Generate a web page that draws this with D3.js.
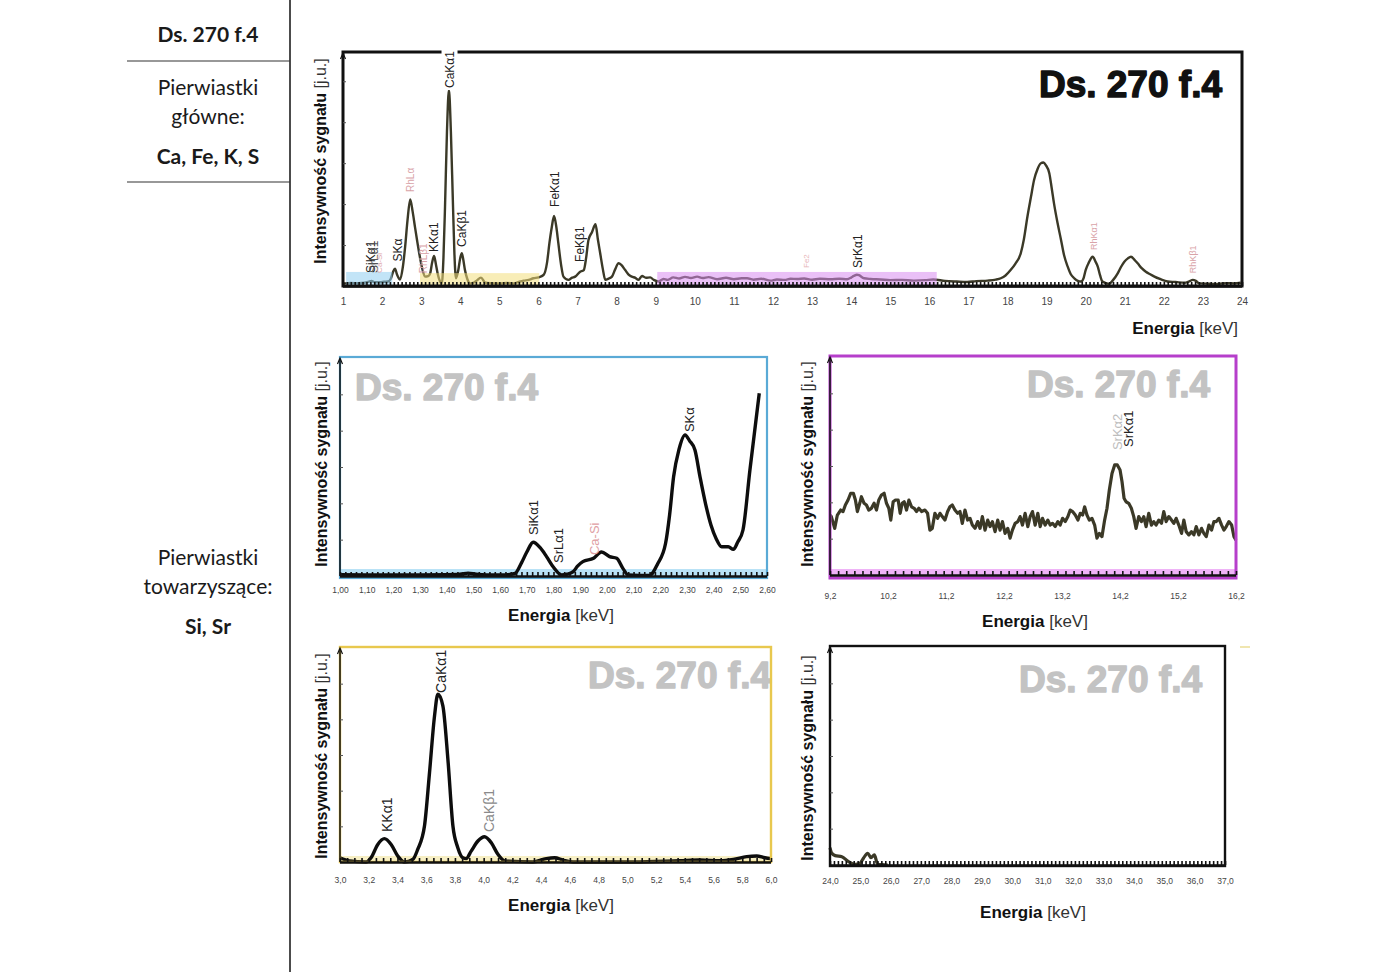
<!DOCTYPE html>
<html><head><meta charset="utf-8">
<script src="https://cdn.jsdelivr.net/npm/d3@7"></script>
<style>body{margin:0;background:#fff}svg{display:block}text{font-family:"Liberation Sans",Arial,sans-serif}</style>
</head><body>
<svg id="c" width="1400" height="972"></svg>
<script>
// ---------------- DATA ----------------
const sampleName = "Ds. 270 f.4";
const mainElements = "Ca, Fe, K, S";
const traceElements = "Si, Sr";

// [keV, intensity (a.u., 0-100)]
const mainSpectrum = [[1.00,1.0],[1.05,1.1],[1.2,1.3],[1.4,1.2],[1.55,1.4],[1.65,1.8],[1.73,2.2],[1.8,1.6],[1.95,1.6],[2.05,1.8],[2.15,1.9],[2.22,3.0],[2.28,6.0],[2.33,7.4],[2.38,5.0],[2.46,2.8],[2.53,8],[2.59,16.8],[2.65,28],[2.72,37.0],[2.78,32],[2.84,25.4],[2.90,19],[2.95,14.0],[3.02,8],[3.10,4.0],[3.18,4.2],[3.23,5.4],[3.28,10],[3.33,12.8],[3.38,9],[3.43,4.7],[3.50,1.5],[3.53,1.2],[3.57,12],[3.61,33.9],[3.66,66],[3.71,83.8],[3.76,66],[3.81,36.8],[3.85,14],[3.89,3.3],[3.95,6.8],[4.00,12],[4.04,14.0],[4.08,11],[4.12,6.8],[4.18,3],[4.25,1.1],[4.35,1.5],[4.42,2.3],[4.53,3.6],[4.64,1.4],[4.8,1.2],[5.0,1.1],[5.2,1.3],[5.36,1.1],[5.5,1.8],[5.62,2.3],[5.75,2.6],[5.87,3.3],[6.00,3.7],[6.13,4.7],[6.22,10],[6.28,18.2],[6.34,25],[6.40,29.9],[6.46,25],[6.51,18.2],[6.58,9],[6.64,4.0],[6.77,2.6],[6.85,3.5],[6.94,4.0],[7.06,6],[7.16,6.8],[7.22,12],[7.28,19.7],[7.37,23],[7.46,26.4],[7.52,20],[7.58,14.0],[7.65,7],[7.71,2.6],[7.80,3.2],[7.88,4.0],[7.96,7],[8.05,9.7],[8.12,9],[8.22,6.8],[8.30,5],[8.39,4.0],[8.48,3.5],[8.56,2.6],[8.65,4.3],[8.75,3.5],[8.86,3.7],[8.95,2.6],[9.07,1.9],[9.2,3.0],[9.3,2.6],[9.45,3.7],[9.6,3.2],[9.75,3.9],[9.9,3.4],[10.06,4.0],[10.2,3.4],[10.35,3.8],[10.57,2.9],[10.8,3.5],[11.0,2.9],[11.2,3.3],[11.34,3.3],[11.5,2.7],[11.7,3.1],[11.94,2.3],[12.1,2.8],[12.3,2.6],[12.45,3.1],[12.62,3.0],[12.8,3.2],[13.0,2.7],[13.2,3.1],[13.47,2.9],[13.7,3.1],[13.9,2.9],[14.0,3.6],[14.07,4.3],[14.15,4.8],[14.2,4.6],[14.33,3.3],[14.5,3.0],[14.75,2.8],[15.0,2.5],[15.3,2.6],[15.6,2.3],[15.9,2.5],[16.1,2.8],[16.4,2.2],[16.7,1.9],[16.97,1.7],[17.2,2.1],[17.49,2.3],[17.7,2.7],[17.83,3.3],[17.95,4.5],[18.08,6.8],[18.2,9.5],[18.34,14.0],[18.42,20],[18.51,29.6],[18.60,38],[18.68,45.3],[18.77,50],[18.85,52.4],[18.92,52.8],[18.98,51.7],[19.07,48.2],[19.13,42],[19.19,35.3],[19.28,27],[19.37,19.7],[19.45,13],[19.54,8.3],[19.62,5],[19.71,3.3],[19.80,2.2],[19.88,1.9],[19.95,3.5],[20.0,6.8],[20.08,10],[20.18,12.5],[20.25,10.5],[20.31,8.3],[20.37,4.5],[20.43,1.9],[20.6,0.9],[20.7,2.5],[20.82,5.4],[20.9,8],[20.99,10.4],[21.08,11.8],[21.16,12.5],[21.25,11.2],[21.33,9.7],[21.44,7.5],[21.54,6.1],[21.65,5],[21.76,4.0],[21.9,3],[22.1,1.9],[22.3,1.7],[22.53,1.4],[22.65,2],[22.74,2.6],[22.82,2.2],[22.91,1.1],[23.1,1.0],[23.38,0.9],[23.6,1.2],[23.8,1.1],[23.97,1.4]];

const siSpectrum = [[1.00,0.6],[1.10,0.5],[1.20,0.5],[1.30,0.5],[1.40,0.6],[1.45,0.8],[1.48,1.3],[1.51,0.8],[1.55,0.5],[1.62,0.5],[1.656,1.2],[1.68,6],[1.70,11],[1.724,15.5],[1.75,13],[1.774,8.9],[1.80,4],[1.83,0.5],[1.85,0.8],[1.874,2.0],[1.89,4.5],[1.91,6.6],[1.95,8.1],[1.98,11],[2.01,8.9],[2.037,8.1],[2.06,3.5],[2.08,0.5],[2.12,0.3],[2.16,0.3],[2.19,5.5],[2.22,15],[2.235,28],[2.25,45.5],[2.27,58],[2.293,64.7],[2.31,62],[2.33,57.8],[2.349,45.5],[2.37,33],[2.39,23.4],[2.41,17],[2.43,13.4],[2.455,13.4],[2.474,12.2],[2.49,15.5],[2.51,21.1],[2.536,48.6],[2.571,83.8]];

const srSpectrum = [[9.20,27.5],[9.223,26.8],[9.281,21.4],[9.327,27.5],[9.384,29.8],[9.425,29.1],[9.465,32.1],[9.511,34.4],[9.557,37.5],[9.603,37.5],[9.638,34.4],[9.672,29.1],[9.713,32.9],[9.742,35.9],[9.788,32.9],[9.828,32.1],[9.868,29.8],[9.914,30.6],[9.960,32.9],[10.001,29.8],[10.041,34.4],[10.087,36.7],[10.133,37.5],[10.174,32.9],[10.214,30.6],[10.248,25.2],[10.289,33.6],[10.329,34.4],[10.375,34.4],[10.410,28.3],[10.444,32.9],[10.479,33.6],[10.519,29.8],[10.560,34.4],[10.606,31.3],[10.652,30.6],[10.692,29.1],[10.732,30.6],[10.779,29.1],[10.836,29.8],[10.882,28.3],[10.922,20.6],[10.963,21.4],[11.009,28.3],[11.055,26.0],[11.095,28.3],[11.136,26.8],[11.182,25.2],[11.228,29.1],[11.268,31.3],[11.308,32.1],[11.354,29.8],[11.401,28.3],[11.441,29.1],[11.481,23.7],[11.527,29.8],[11.573,25.2],[11.614,26.0],[11.654,22.9],[11.700,21.4],[11.746,24.5],[11.787,21.4],[11.827,26.8],[11.873,20.6],[11.919,25.2],[11.960,22.2],[12.000,24.5],[12.046,19.9],[12.092,25.2],[12.132,20.6],[12.173,24.5],[12.219,19.1],[12.265,21.4],[12.305,16.9],[12.345,20.6],[12.392,23.7],[12.438,24.5],[12.478,26.8],[12.518,22.9],[12.564,28.3],[12.611,22.2],[12.651,26.8],[12.691,29.1],[12.737,22.9],[12.783,28.3],[12.824,22.2],[12.864,26.0],[12.910,22.9],[12.956,25.2],[12.997,22.9],[13.037,23.7],[13.083,22.2],[13.129,24.5],[13.169,22.9],[13.210,26.0],[13.256,24.5],[13.302,26.8],[13.342,29.8],[13.382,29.1],[13.429,27.5],[13.475,25.2],[13.515,28.3],[13.555,27.5],[13.590,31.3],[13.630,27.5],[13.671,25.2],[13.717,26.0],[13.763,22.9],[13.803,16.9],[13.843,19.1],[13.889,17.6],[13.935,25.2],[13.976,30.6],[14.016,39.0],[14.062,46.6],[14.108,50.5],[14.154,50.5],[14.201,48.2],[14.235,42.8],[14.270,35.2],[14.304,33.6],[14.350,32.9],[14.396,30.6],[14.437,26.8],[14.477,21.4],[14.523,26.8],[14.569,24.5],[14.610,26.8],[14.650,22.2],[14.696,28.3],[14.742,22.9],[14.782,24.5],[14.823,22.9],[14.869,25.2],[14.915,23.7],[14.955,29.1],[14.996,24.5],[15.042,26.8],[15.088,25.2],[15.128,23.7],[15.168,26.0],[15.214,22.9],[15.261,19.1],[15.301,25.2],[15.341,19.9],[15.387,18.4],[15.433,19.9],[15.474,18.4],[15.514,22.2],[15.560,18.4],[15.606,21.4],[15.646,19.1],[15.687,17.6],[15.733,22.9],[15.779,20.6],[15.819,24.5],[15.860,24.5],[15.906,26.0],[15.952,22.9],[15.992,20.6],[16.032,22.2],[16.078,24.5],[16.125,22.9],[16.165,17.6],[16.20,16.0]];

const caSpectrum = [[3.00,2.0],[3.065,0.5],[3.18,0],[3.216,2.0],[3.263,8.2],[3.309,10.9],[3.356,8.2],[3.402,2.8],[3.449,0],[3.507,1.2],[3.541,5.9],[3.588,16.8],[3.623,41.7],[3.658,68.3],[3.681,78.4],[3.716,73.0],[3.751,48.0],[3.786,16.8],[3.820,6.7],[3.855,2.0],[3.878,1.6],[3.913,5.1],[3.960,9.8],[4.006,11.8],[4.053,9.0],[4.099,3.6],[4.146,0.5],[4.343,0],[4.436,1.6],[4.494,2.0],[4.552,0.9],[4.622,0],[5.04,0],[5.366,0.6],[5.505,0.9],[5.645,0.6],[5.738,1.2],[5.831,2.5],[5.90,2.8],[5.958,2.0],[6.00,1.6]];

const highSpectrum = [[24.0,7.9],[24.06,5.4],[24.17,4.3],[24.39,3.8],[24.61,1.5],[24.83,0.3],[24.99,0.8],[25.10,3.1],[25.24,5.4],[25.35,3.4],[25.46,4.6],[25.57,0.3],[25.9,0]];

// tick labels
const mainTicks = [1,2,3,4,5,6,7,8,9,10,11,12,13,14,15,16,17,18,19,20,21,22,23,24];
const siTicks = [1.0,1.1,1.2,1.3,1.4,1.5,1.6,1.7,1.8,1.9,2.0,2.1,2.2,2.3,2.4,2.5,2.6];
const srTicks = [9.2,10.2,11.2,12.2,13.2,14.2,15.2,16.2];
const caTicks = [3.0,3.2,3.4,3.6,3.8,4.0,4.2,4.4,4.6,4.8,5.0,5.2,5.4,5.6,5.8,6.0];
const highTicks = [24,25,26,27,28,29,30,31,32,33,34,35,36,37];

// highlighted ranges in the overview spectrum [from keV, to keV, height, colour]
const zoomRanges = [[1.08,2.26,6,"#8fcdf0"],[2.97,6.02,5.5,"#f2de7c"],[9.04,16.19,6,"#d98cf0"]];

// peak labels: text, keV, intensity at label base
const mainPeaks = [
  {t:"SiKα1",k:1.70,v:5.6},{t:"SrLα1",k:1.80,v:5.6,c:"#555"},{t:"Ca-Si",k:1.93,v:5.6,c:"#e0a8ac",s:8},
  {t:"SKα",k:2.40,v:10.5},{t:"RhLα",k:2.72,v:40.2,c:"#d9a3a8",s:10},{t:"RhLβ1",k:3.06,v:5.5,c:"#d9a3a8",s:10},
  {t:"KKα1",k:3.33,v:14.5},{t:"CaKα1",k:3.72,v:84.6,bg:true},{t:"CaKβ1",k:4.04,v:16.7},
  {t:"FeKα1",k:6.43,v:33.8},{t:"FeKβ1",k:7.07,v:10.3},{t:"Fe2",k:12.86,v:7.7,c:"#e7b5b8",s:8},
  {t:"SrKα1",k:14.18,v:7.7},{t:"RhKα1",k:20.2,v:15.4,c:"#d9a3a8",s:9},{t:"RhKβ1",k:22.74,v:5.5,c:"#d9a3a8",s:9}
];
const siPeaks = [{t:"SiKα1",k:1.723,v:18.8},{t:"SrLα1",k:1.817,v:6},{t:"Ca-Si",k:1.955,v:9.6,c:"#e0a0a4"},{t:"SKα",k:2.311,v:66}];
const srPeaks = [{t:"SrKα2",k:14.16,v:57.3,c:"#bdbdbd"},{t:"SrKα1",k:14.35,v:58.7}];
const caPeaks = [{t:"KKα1",k:3.327,v:14},{t:"CaKα1",k:3.703,v:79},{t:"CaKβ1",k:4.037,v:14,c:"#8a8a8a"}];

// ---------------- DRAW ----------------
const svg = d3.select("#c");

// left table
const tbl = svg.append("g").attr("font-size",21).attr("fill","#1a1a1a").attr("text-anchor","middle");
svg.append("line").attr("x1",290).attr("x2",290).attr("y1",0).attr("y2",972).attr("stroke","#111").attr("stroke-width",1.5);
[61,182].forEach(yy=>svg.append("line").attr("x1",127).attr("x2",290).attr("y1",yy).attr("y2",yy).attr("stroke","#333").attr("stroke-width",1.2));
const tx = (s,yy,b)=>tbl.append("text").attr("x",208).attr("y",yy).attr("font-weight",b?"bold":"normal").style("font-family","Lato, 'Open Sans', sans-serif").text(s);
tx(sampleName,42,true); tx("Pierwiastki",95); tx("główne:",124); tx(mainElements,164,true);
tx("Pierwiastki",565); tx("towarzyszące:",594); tx(traceElements,634,true);

const comma = f => (d => d3.format(f)(d).replace(".",","));

function rotLabel(g, x, y, arr, size, color){
  arr.forEach(d=>{
    const gg = g.append("g").attr("transform",`translate(${x(d.k)},${y(d.v)}) rotate(-90)`);
    const t = gg.append("text").attr("dy","0.35em").attr("font-size",d.s||size).attr("fill",d.c||color).text(d.t);
    if(d.bg){
      const b = t.node().getBBox();
      gg.insert("rect","text").attr("x",b.x-2).attr("y",b.y-1).attr("width",b.width+12).attr("height",b.height+2).attr("fill","#fff");
    }
  });
}

function panel(o){
  const g = svg.append("g");
  const x = d3.scaleLinear().domain(o.xd).range([o.L,o.R]);
  const y = d3.scaleLinear().domain([0,100]).range([o.B,o.T]);
  if(o.band) g.append("rect").attr("x",o.L).attr("y",o.B-o.bandH).attr("width",o.R-o.L).attr("height",o.boxB-o.B+o.bandH).attr("fill",o.band);
  // title
  g.append("text").attr("x",o.titleX).attr("y",o.titleY).attr("text-anchor",o.titleAnchor).attr("font-size",37).attr("font-weight","bold")
    .attr("fill",o.titleColor).attr("stroke",o.titleColor).attr("stroke-width",1.4).attr("stroke-linejoin","round").text(sampleName);
  // spectrum
  g.append("path").datum(o.data).attr("fill","none").attr("stroke",o.lineColor).attr("stroke-width",o.lw).attr("stroke-linejoin","round")
    .attr("d",d3.line().x(d=>x(d[0])).y(d=>y(d[1])).curve(o.curve));
  if(o.ranges){
    o.ranges.forEach(r=>g.append("rect").attr("x",x(r[0])).attr("y",y(r[2])).attr("width",x(r[1])-x(r[0])).attr("height",y(0)-y(r[2])).attr("fill",r[3]).attr("opacity",0.55));
  }
  // border
  g.append("rect").attr("x",o.L).attr("y",o.boxT).attr("width",o.R-o.L).attr("height",o.boxB-o.boxT).attr("fill","none").attr("stroke",o.border).attr("stroke-width",o.bw);
  // minor ticks (ruler)
  const minor = d3.range(o.xd[0], o.xd[1]+1e-9, o.minor);
  g.append("g").attr("transform",`translate(0,${o.B})`).call(d3.axisBottom(x).tickValues(minor).tickSize(-4).tickFormat(""))
    .call(a=>{a.select(".domain").remove(); a.selectAll("line").attr("stroke","#111").attr("stroke-width",1.6);});
  g.append("line").attr("x1",o.L).attr("x2",o.R).attr("y1",o.B+0.5).attr("y2",o.B+0.5).attr("stroke","#111").attr("stroke-width",2.5);
  // labelled ticks
  g.append("g").attr("transform",`translate(0,${o.B})`).call(d3.axisBottom(x).tickValues(o.ticks).tickFormat(o.fmt).tickSize(0).tickPadding(o.tickPad))
    .call(a=>{a.select(".domain").remove(); a.selectAll("text").attr("font-size",o.tickSize).attr("fill","#444").style("font-family","'Liberation Sans',Arial,sans-serif");});
  // y axis
  g.append("line").attr("x1",o.L).attr("x2",o.L).attr("y1",o.B).attr("y2",o.boxT+2).attr("stroke","#111").attr("stroke-width",1.5);
  g.append("path").attr("d",`M${o.L-2.5},${o.boxT+7}L${o.L},${o.boxT+1}L${o.L+2.5},${o.boxT+7}`).attr("fill","none").attr("stroke","#111").attr("stroke-width",1.2);
  g.append("g").attr("transform",`translate(${o.L},0)`).call(d3.axisRight(y).tickValues(o.yTicks).tickSize(3).tickFormat(""))
    .call(a=>{a.select(".domain").remove(); a.selectAll("line").attr("stroke","#555");});
  // axis titles
  const yl = g.append("text").attr("transform",`translate(${o.ylX},${o.ylY}) rotate(-90)`).attr("text-anchor","middle").attr("font-size",16).attr("fill","#111");
  yl.append("tspan").attr("font-weight","bold").text("Intensywność sygnału ");
  yl.append("tspan").attr("fill","#333").text("[j.u.]");
  const xl = g.append("text").attr("x",o.xlX).attr("y",o.xlY).attr("text-anchor",o.xlAnchor).attr("font-size",17).attr("fill","#111");
  xl.append("tspan").attr("font-weight","bold").text("Energia ");
  xl.append("tspan").attr("fill","#333").text("[keV]");
  if(o.peaks) rotLabel(g,x,y,o.peaks,o.peakSize,"#222");
  return g;
}

const sixth = [100/6,200/6,300/6,400/6,500/6];

panel({xd:[1,24],L:343,R:1242,B:286,T:52,boxT:52,boxB:286,border:"#111",bw:3,
  data:mainSpectrum,lineColor:"#3b3927",lw:2.4,curve:d3.curveMonotoneX,ranges:zoomRanges,
  minor:0.1,ticks:mainTicks,fmt:d3.format("d"),tickPad:12,tickSize:10,yTicks:[17.5,35,52.5,70,87.5],
  titleX:1222,titleY:97,titleAnchor:"end",titleColor:"#111",
  ylX:326,ylY:161,xlX:1238,xlY:334,xlAnchor:"end",peaks:mainPeaks,peakSize:12});

panel({xd:[1,2.6],L:340,R:767,B:576,T:358,boxT:357,boxB:578,border:"#5aaad6",bw:2.2,band:"#b9e2f6",bandH:7,
  data:siSpectrum,lineColor:"#0d0d0d",lw:3.4,curve:d3.curveMonotoneX,
  minor:0.02,ticks:siTicks,fmt:comma(".2f"),tickPad:11,tickSize:8.5,yTicks:sixth,
  titleX:355,titleY:400,titleAnchor:"start",titleColor:"#c3c3c3",
  ylX:327,ylY:464,xlX:561,xlY:621,xlAnchor:"middle",peaks:siPeaks,peakSize:13});

panel({xd:[9.2,16.2],L:830,R:1236,B:575,T:357,boxT:356,boxB:578,border:"#b63fcb",bw:3,band:"#efb3f7",bandH:6,
  data:srSpectrum,lineColor:"#3b3927",lw:3.2,curve:d3.curveLinear,
  minor:0.14,ticks:srTicks,fmt:comma(".1f"),tickPad:18,tickSize:8.5,yTicks:sixth,
  titleX:1210,titleY:397,titleAnchor:"end",titleColor:"#c3c3c3",
  ylX:813,ylY:464,xlX:1035,xlY:627,xlAnchor:"middle",peaks:srPeaks,peakSize:13});

panel({xd:[3,6],L:340,R:771,B:862,T:648,boxT:647,boxB:862,border:"#e8c84e",bw:2.4,band:"#f7efc4",bandH:6,
  data:caSpectrum,lineColor:"#0d0d0d",lw:3.4,curve:d3.curveMonotoneX,
  minor:0.05,ticks:caTicks,fmt:comma(".1f"),tickPad:15,tickSize:8.5,yTicks:sixth,
  titleX:771,titleY:688,titleAnchor:"end",titleColor:"#c3c3c3",
  ylX:327,ylY:756,xlX:561,xlY:911,xlAnchor:"middle",peaks:caPeaks,peakSize:14});

panel({xd:[24,37],L:830,R:1225,B:865,T:647,boxT:646,boxB:866,border:"#111",bw:2.4,
  data:highSpectrum,lineColor:"#3b3927",lw:3.2,curve:d3.curveMonotoneX,
  minor:0.13,ticks:highTicks,fmt:comma(".1f"),tickPad:13,tickSize:8.5,yTicks:sixth,
  titleX:1202,titleY:692,titleAnchor:"end",titleColor:"#c3c3c3",
  ylX:813,ylY:758,xlX:1033,xlY:918,xlAnchor:"middle"});

svg.append("line").attr("x1",1240).attr("x2",1250).attr("y1",647).attr("y2",647).attr("stroke","#f0e6b0").attr("stroke-width",2);
</script>
</body></html>
